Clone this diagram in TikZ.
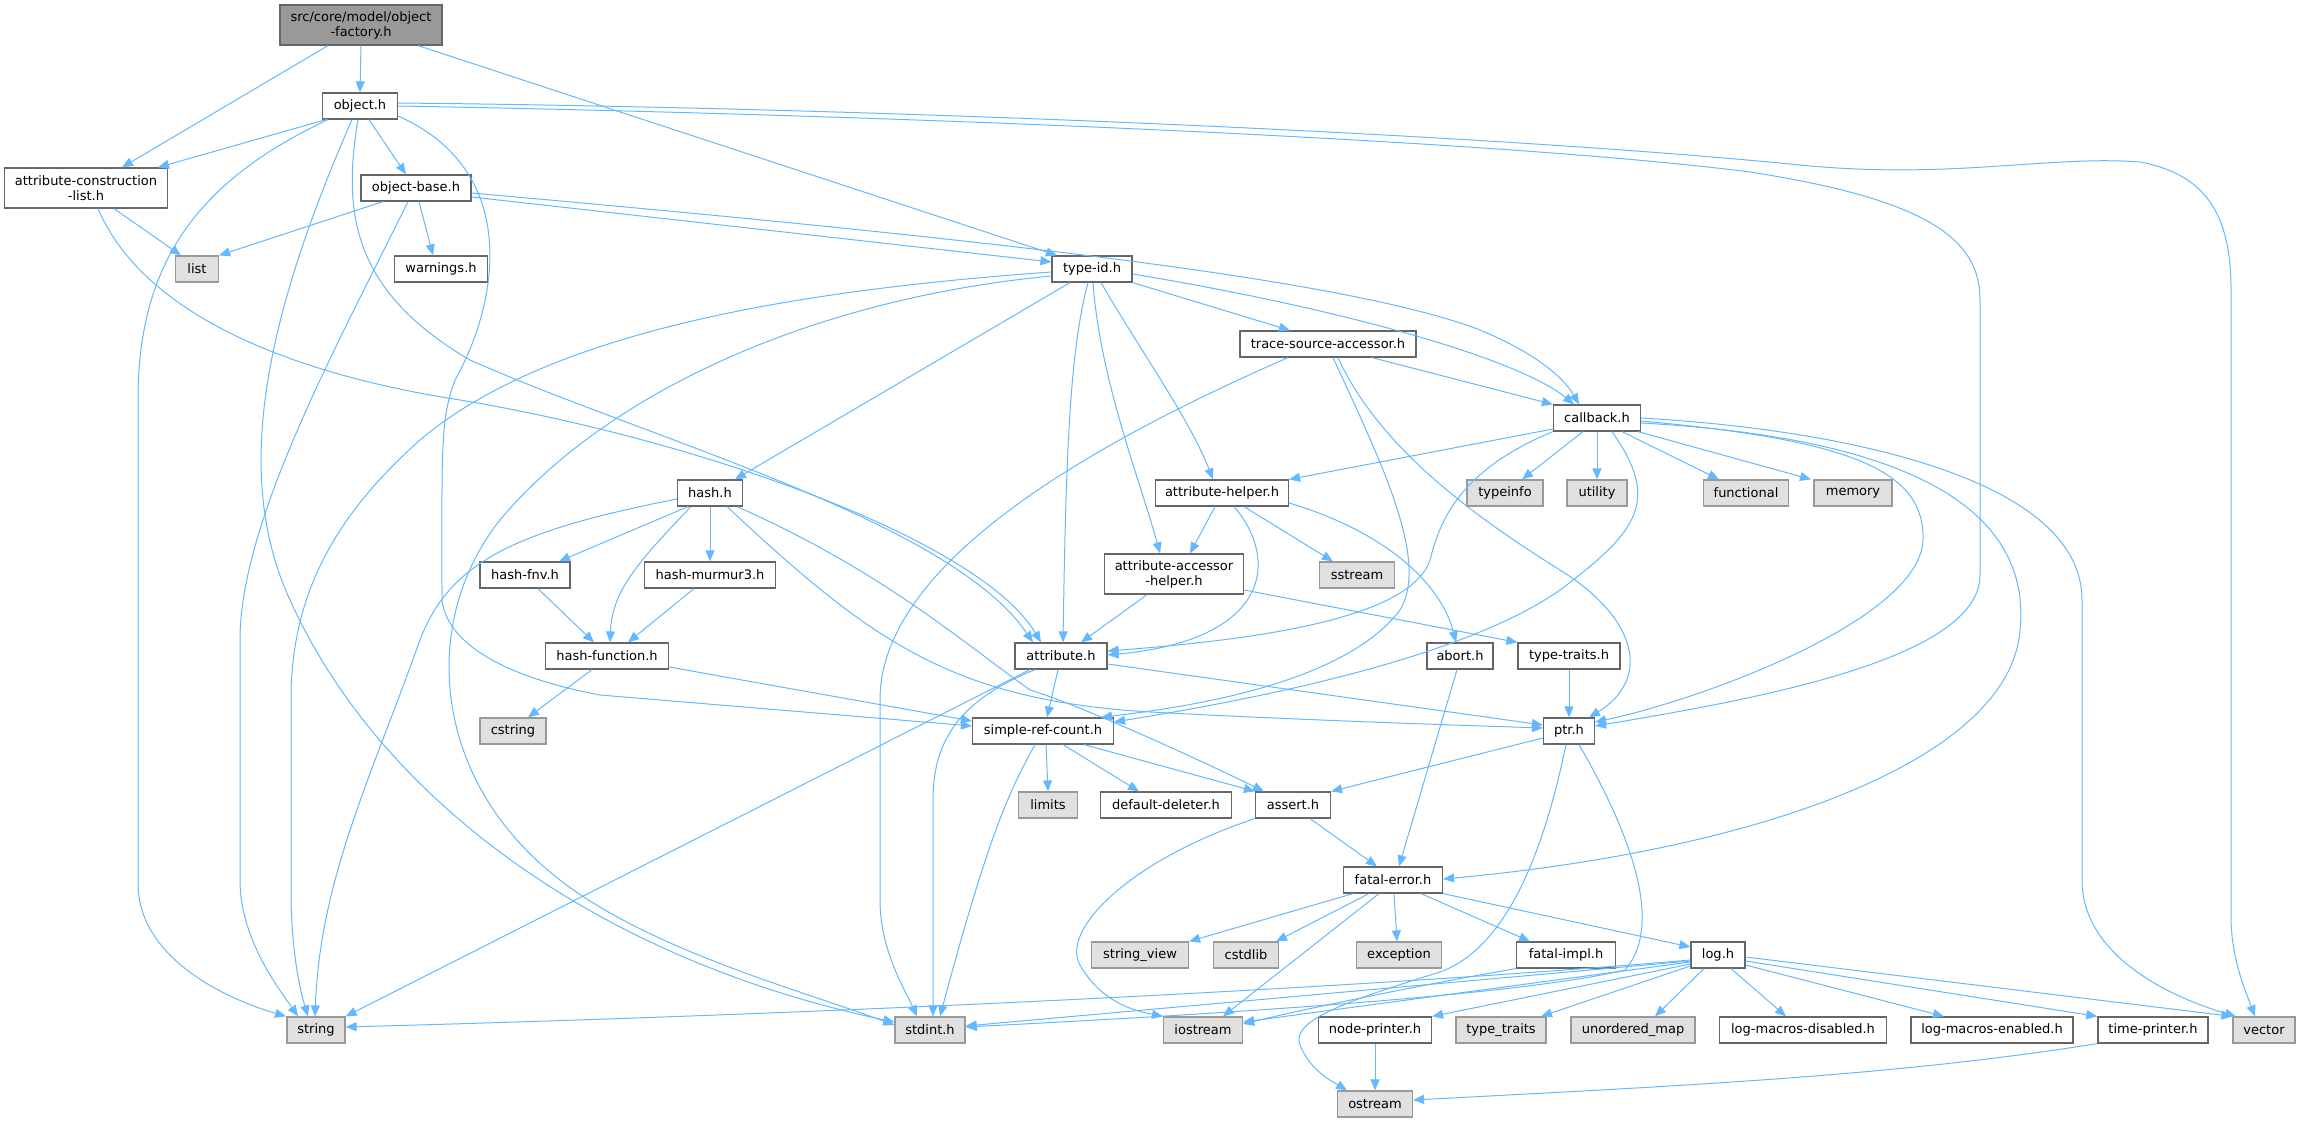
\documentclass[tikz,border=0pt]{standalone}
\usepackage{fontspec}
\setmainfont{DejaVu Sans}
\usepackage{tikz}
\usetikzlibrary{shapes,
                arrows.meta}
\definecolor{edgeblue}{HTML}{63B8FF}
\definecolor{headerline}{HTML}{666666}
\definecolor{sysline}{HTML}{999999}
\definecolor{sysfill}{HTML}{E0E0E0}
\definecolor{rootfill}{HTML}{999999}
\tikzset{header/.style=
   {rectangle,
    draw=headerline,
    fill=white,
    line width=1.2pt,
    text centered,
    inner sep=0pt,
    minimum height=26pt,
    font=\fontsize{13}{15}\selectfont}}
\tikzset{sysheader/.style =
   {header,
    draw=sysline,
    fill=sysfill}}
\tikzset{twolines/.style =
   {align=center,
    minimum height=40pt}}
\tikzset{rootheader/.style =
   {header,
    twolines,
    fill=rootfill}}
\tikzset{arrow/.style = {draw=edgeblue, line width=1pt, -{Triangle[length=11pt,width=9pt]}}}

\begin{document}
\begin{tikzpicture}[x=1pt, y=-1pt, auto]

    \useasboundingbox (0,0) rectangle (2300,1123);

    \node [rootheader, minimum width=162pt] (factory) at (361,25)
    {src/core/model/object\\-factory.h};
    \node [header, minimum width=75pt]  (object)    at (360,106)  {object.h};
    \node [header, twolines, minimum width=163pt] (constrlist) at (86,188)
    {attribute-construction\\-list.h};
    \node [header, minimum width=110pt] (objbase)   at (416,188)  {object-base.h};
    \node [sysheader, minimum width=43pt] (list)    at (197,269)  {list};
    \node [header, minimum width=93pt]  (warnings)  at (441,269)  {warnings.h};
    \node [header, minimum width=80pt]  (typeid)    at (1092,269) {type-id.h};
    \node [header, minimum width=176pt] (tracesrc)  at (1328,344) {trace-source-accessor.h};
    \node [header, minimum width=87pt]  (callback)  at (1597,418) {callback.h};
    \node [header, minimum width=65pt]  (hash)      at (710,493)  {hash.h};
    \node [header, minimum width=133pt] (attrhelper) at (1222,493) {attribute-helper.h};
    \node [sysheader, minimum width=76pt] (typeinfo) at (1505,493) {typeinfo};
    \node [sysheader, minimum width=60pt] (utility)  at (1597,493) {utility};
    \node [sysheader, minimum width=85pt] (functional) at (1746,493) {functional};
    \node [sysheader, minimum width=78pt] (memory)   at (1853,493) {memory};
    \node [header, minimum width=90pt]  (hashfnv)   at (525,575)  {hash-fnv.h};
    \node [header, minimum width=131pt] (murmur)    at (710,575)  {hash-murmur3.h};
    \node [header, twolines, minimum width=139pt] (accessor) at (1174,574)
    {attribute-accessor\\-helper.h};
    \node [sysheader, minimum width=75pt] (sstream)  at (1357,575) {sstream};
    \node [header, minimum width=123pt] (hashfunc)  at (607,656)  {hash-function.h};
    \node [header, minimum width=92pt]  (attribute) at (1061,656) {attribute.h};
    \node [header, minimum width=66pt]  (abort)     at (1460,656) {abort.h};
    \node [header, minimum width=102pt] (typetraits) at (1569,656) {type-traits.h};
    \node [sysheader, minimum width=66pt] (cstring)  at (513,731)  {cstring};
    \node [header, minimum width=141pt] (refcount)  at (1043,731) {simple-ref-count.h};
    \node [header, minimum width=51pt]  (ptr)       at (1569,731) {ptr.h};
    \node [sysheader, minimum width=59pt] (limits)   at (1048,805) {limits};
    \node [header, minimum width=131pt] (deleter)   at (1166,805) {default-deleter.h};
    \node [header, minimum width=75pt]  (assert)    at (1293,805) {assert.h};
    \node [header, minimum width=99pt]  (fatal)     at (1393,880) {fatal-error.h};
    \node [sysheader, minimum width=97pt] (stringview) at (1140,955) {string\_view};
    \node [sysheader, minimum width=65pt] (cstdlib)  at (1246,955) {cstdlib};
    \node [sysheader, minimum width=85pt] (exception) at (1399,955) {exception};
    \node [header, minimum width=99pt]  (fatalimpl) at (1566,955) {fatal-impl.h};
    \node [header, minimum width=54pt]  (log)       at (1718,955) {log.h};
    \node [sysheader, minimum width=58pt] (string)   at (316,1030) {string};
    \node [sysheader, minimum width=70pt] (stdint)   at (930,1030) {stdint.h};
    \node [sysheader, minimum width=79pt] (iostream) at (1203,1030) {iostream};
    \node [header, minimum width=113pt] (nodeprinter) at (1375,1030) {node-printer.h};
    \node [sysheader, minimum width=90pt] (stdtraits) at (1501,1030) {type\_traits};
    \node [sysheader, minimum width=124pt] (unordmap) at (1633,1030) {unordered\_map};
    \node [header, minimum width=167pt] (macrosoff) at (1803,1030) {log-macros-disabled.h};
    \node [header, minimum width=162pt] (macroson)  at (1992,1030) {log-macros-enabled.h};
    \node [header, minimum width=110pt] (timeprinter) at (2153,1030) {time-printer.h};
    \node [sysheader, minimum width=62pt] (vector)   at (2264,1030) {vector};
    \node [sysheader, minimum width=75pt] (ostream)  at (1375,1104) {ostream};

    \draw [arrow] ([xshift=-33pt]factory.south) -- ([xshift=36pt]constrlist.north);
    \draw [arrow] (factory.south) -- (object.north);
    \draw [arrow] ([xshift=57pt]factory.south) -- ([xshift=-35pt]typeid.north);

    \draw [arrow] ([xshift=-34pt]object.south) -- ([xshift=72pt]constrlist.north);
    \draw [arrow] ([xshift=9pt]object.south) -- ([xshift=-10pt]objbase.north);
    \draw [arrow] ([xshift=-32pt]object.south) .. controls (200,180) and (138,260) .. (138,400)
        -- (138,883) .. controls (138,960) and (230,1000) .. ([xshift=-30pt]string.north);
    \draw [arrow] ([xshift=-8pt]object.south) .. controls (260,330) and (235,480) .. (290,600)
        .. controls (380,800) and (600,960) .. ([yshift=8pt]stdint.west);
    \draw [arrow] ([xshift=-2pt]object.south) .. controls (343,210) and (350,290) .. (470,360)
        .. controls (650,440) and (950,520) .. ([xshift=-28pt]attribute.north);
    \draw [arrow] ([yshift=-10pt]object.east) .. controls (520,170) and (500,300) .. (455,380)
        .. controls (440,420) and (442,450) .. (442,600)
        .. controls (448,650) and (520,680) .. (600,695) -- ([yshift=5pt]refcount.west);
    \draw [arrow] (object.east) .. controls (900,115) and (1500,140) .. (1750,172)
        .. controls (1930,200) and (1980,240) .. (1980,300) -- (1980,575)
        .. controls (1980,660) and (1750,700) .. ([yshift=5pt]ptr.east);
    \draw [arrow] ([yshift=3pt]object.east) .. controls (900,108) and (1500,135) .. (1800,165)
        .. controls (1950,180) and (2050,155) .. (2140,162)
        .. controls (2210,175) and (2231,220) .. (2231,290) -- (2231,920)
        .. controls (2232,960) and (2245,990) .. ([xshift=-9pt]vector.north);

    \draw [arrow] ([xshift=28pt]constrlist.south) -- ([xshift=-16pt]list.north);
    \draw [arrow] ([xshift=12pt]constrlist.south) .. controls (150,330) and (330,380) .. (460,400)
        .. controls (700,440) and (980,540) .. ([xshift=-20pt]attribute.north);

    \draw [arrow] ([xshift=-33pt]objbase.south) -- (list.north east);
    \draw [arrow] ([xshift=3pt]objbase.south) -- ([xshift=-8pt]warnings.north);
    \draw [arrow] ([xshift=-8pt]objbase.south) .. controls (340,340) and (240,520) .. (240,640)
        -- (240,880) .. controls (240,940) and (280,990) .. ([xshift=-18pt]string.north);
    \draw [arrow] ([yshift=-9pt]objbase.east) -- ([yshift=7pt]typeid.west);
    \draw [arrow] ([yshift=-5pt]objbase.east) .. controls (1000,240) and (1350,280) .. (1480,330)
        .. controls (1540,355) and (1565,380) .. ([xshift=-18pt]callback.north);

    \draw [arrow] (typeid.south east) -- ([xshift=-38pt]tracesrc.north);
    \draw [arrow] ([yshift=-5pt]typeid.east) .. controls (1350,310) and (1520,360)
        .. ([xshift=-23pt]callback.north);
    \draw [arrow] ([xshift=-22pt]typeid.south) -- ([xshift=25pt]hash.north);
    \draw [arrow] ([xshift=-4pt]typeid.south) .. controls (1070,350) and (1066,450)
        .. ([xshift=2pt]attribute.north);
    \draw [arrow] ([xshift=1pt]typeid.south) .. controls (1100,380) and (1140,480)
        .. ([xshift=-14pt]accessor.north);
    \draw [arrow] ([xshift=9pt]typeid.south) .. controls (1140,350) and (1190,420)
        .. ([xshift=-9pt]attrhelper.north);
    \draw [arrow] ([yshift=-3pt]typeid.west) .. controls (800,290) and (550,330) .. (420,440)
        .. controls (330,520) and (291,600) .. (291,700) -- (291,890)
        .. controls (291,950) and (300,990) .. ([xshift=-8pt]string.north);
    \draw [arrow] ([yshift=-7pt]typeid.west) .. controls (800,300) and (600,400) .. (500,520)
        .. controls (420,620) and (430,780) .. (560,880)
        .. controls (650,950) and (800,990) .. ([yshift=5pt]stdint.west);

    \draw [arrow] ([xshift=44pt]tracesrc.south) -- (callback.north west);
    \draw [arrow] ([xshift=-40pt]tracesrc.south) .. controls (1100,440) and (880,560) .. (880,700)
        -- (880,900) .. controls (880,950) and (905,990) .. ([xshift=-13pt]stdint.north);
    \draw [arrow] ([xshift=5pt]tracesrc.south) .. controls (1380,460) and (1430,560) .. (1400,610)
        .. controls (1340,690) and (1160,710) .. ([xshift=58pt]refcount.north);
    \draw [arrow] ([xshift=10pt]tracesrc.south) .. controls (1380,450) and (1480,520) .. (1560,570)
        .. controls (1640,620) and (1650,680) .. ([xshift=20pt]ptr.north);

    \draw [arrow] ([yshift=-11pt]callback.west) -- (attrhelper.north east);
    \draw [arrow] (callback.south west) .. controls (1460,470) and (1440,520) .. (1430,560)
        .. controls (1410,620) and (1250,640) .. ([yshift=5pt]attribute.east);
    \draw [arrow] ([xshift=15pt]callback.south) .. controls (1660,500) and (1640,530) .. (1560,590)
        .. controls (1460,660) and (1250,700) .. ([yshift=9pt]refcount.east);
    \draw [arrow] ([xshift=-14pt]callback.south) -- ([xshift=17pt]typeinfo.north);
    \draw [arrow] (callback.south) -- (utility.north);
    \draw [arrow] ([xshift=25pt]callback.south) -- ([xshift=-27pt]functional.north);
    \draw [arrow] ([xshift=41pt]callback.south) -- ([xshift=-42pt]memory.north);
    \draw [arrow] ([yshift=-3pt]callback.east) .. controls (1850,440) and (1925,470) .. (1923,540)
        .. controls (1920,620) and (1700,700) .. ([yshift=9pt]ptr.east);
    \draw [arrow] ([yshift=-5pt]callback.east) .. controls (1950,440) and (2030,530) .. (2020,630)
        .. controls (2010,760) and (1760,850) .. ([yshift=1pt]fatal.east);
    \draw [arrow] (callback.east) .. controls (1850,430) and (2082,480) .. (2082,600)
        -- (2082,880) .. controls (2082,960) and (2180,1000) .. ([xshift=-28pt]vector.north);

    \draw [arrow] ([xshift=-22pt]hash.south) -- ([xshift=34pt]hashfnv.north);
    \draw [arrow] (hash.south) -- (murmur.north);
    \draw [arrow] ([xshift=-19pt]hash.south) .. controls (640,560) and (612,590)
        .. ([xshift=3pt]hashfunc.north);
    \draw [arrow] ([yshift=-6pt]hash.west) .. controls (520,530) and (450,560) .. (420,640)
        .. controls (370,780) and (320,880) .. ([xshift=-1pt]string.north);
    \draw [arrow] ([xshift=27pt]hash.south) .. controls (880,570) and (960,640) .. (1030,690)
        .. controls (1080,705) and (1200,760) .. ([xshift=-29pt]assert.north);
    \draw [arrow] ([xshift=17pt]hash.south) .. controls (870,640) and (950,700) .. (1150,712)
        .. controls (1300,720) and (1450,725) .. ([yshift=3pt]ptr.west);

    \draw [arrow] ([xshift=13pt]hashfnv.south) -- ([xshift=-13pt]hashfunc.north);
    \draw [arrow] ([xshift=-16pt]murmur.south) -- ([xshift=21pt]hashfunc.north);
    \draw [arrow] ([xshift=-15pt]hashfunc.south) -- ([xshift=15pt]cstring.north);
    \draw [arrow] ([yshift=-11pt]hashfunc.east) -- ([yshift=10pt]refcount.west);

    \draw [arrow] ([xshift=-7pt]attrhelper.south) -- ([xshift=16pt]accessor.north);
    \draw [arrow] ([xshift=12pt]attrhelper.south) .. controls (1280,560) and (1270,640)
        .. ([yshift=1pt]attribute.east);
    \draw [arrow] ([xshift=22pt]attrhelper.south) -- ([xshift=-24pt]sstream.north);
    \draw [arrow] ([yshift=-10pt]attrhelper.east) .. controls (1380,530) and (1440,580)
        .. ([xshift=-4pt]abort.north);

    \draw [arrow] ([xshift=-27pt]accessor.south) -- ([xshift=20pt]attribute.north);
    \draw [arrow] ([yshift=-16pt]accessor.east) -- (typetraits.north west);

    \draw [arrow] ([xshift=-3pt]attribute.south) -- ([xshift=4pt]refcount.north);
    \draw [arrow] ([yshift=-8pt]attribute.east) -- ([yshift=6pt]ptr.west);
    \draw [arrow] ([xshift=-26pt]attribute.south) .. controls (960,700) and (933,740) .. (933,800)
        -- ([xshift=3pt]stdint.north);
    \draw [arrow] ([xshift=-31pt]attribute.south) -- (string.north east);

    \draw [arrow] ([xshift=-3pt]abort.south) -- ([xshift=6pt]fatal.north);
    \draw [arrow] (typetraits.south) -- (ptr.north);

    \draw [arrow] ([xshift=3pt]refcount.south) -- (limits.north);
    \draw [arrow] ([xshift=20pt]refcount.south) -- ([xshift=-27pt]deleter.north);
    \draw [arrow] ([xshift=41pt]refcount.south) -- (assert.north west);
    \draw [arrow] ([xshift=-8pt]refcount.south) .. controls (1010,790) and (990,830)
        .. ([xshift=10pt]stdint.north);

    \draw [arrow] ([yshift=-7pt]ptr.west) -- (assert.north east);
    \draw [arrow] ([xshift=10pt]ptr.south) .. controls (1640,850) and (1660,930) .. (1625,970)
        .. controls (1500,1000) and (1100,1020) .. ([yshift=3pt]stdint.east);
    \draw [arrow] ([xshift=-3pt]ptr.south) .. controls (1540,870) and (1500,950) .. (1440,972)
        .. controls (1350,1000) and (1290,1020) .. (1300,1045)
        .. controls (1310,1070) and (1330,1080) .. ([xshift=-28pt]ostream.north);

    \draw [arrow] ([xshift=17pt]assert.south) -- ([xshift=-16pt]fatal.north);
    \draw [arrow] (assert.south west) .. controls (1130,860) and (1060,930) .. (1080,965)
        .. controls (1100,1000) and (1130,1010) .. (iostream.north west);

    \draw [arrow] ([xshift=-40pt]fatal.south) -- (stringview.north east);
    \draw [arrow] ([xshift=-24pt]fatal.south) -- ([xshift=30pt]cstdlib.north);
    \draw [arrow] ([xshift=-14pt]fatal.south) -- ([xshift=20pt]iostream.north);
    \draw [arrow] ([xshift=1pt]fatal.south) -- ([xshift=-2pt]exception.north);
    \draw [arrow] ([xshift=28pt]fatal.south) -- ([xshift=-36pt]fatalimpl.north);
    \draw [arrow] (fatal.south east) -- ([yshift=8pt]log.west);

    \draw [arrow] (fatalimpl.south west) .. controls (1420,985) and (1300,1010)
        .. ([yshift=6pt]iostream.east);

    \draw [arrow] ([yshift=-5pt]log.west) .. controls (1400,985) and (900,1012)
        .. ([yshift=3pt]string.east);
    \draw [arrow] ([yshift=-6pt]log.west) -- ([yshift=4pt]stdint.east);
    \draw [arrow] ([yshift=-7pt]log.west) -- ([yshift=8pt]iostream.east);
    \draw [arrow] ([yshift=-9pt]log.west) -- (nodeprinter.north east);
    \draw [arrow] ([yshift=-11pt]log.west) -- ([xshift=40pt]stdtraits.north);
    \draw [arrow] ([xshift=-14pt]log.south) -- ([xshift=22pt]unordmap.north);
    \draw [arrow] ([xshift=13pt]log.south) -- ([xshift=-17pt]macrosoff.north);
    \draw [arrow] ([yshift=-10pt]log.east) -- ([xshift=-48pt]macroson.north);
    \draw [arrow] ([yshift=-6pt]log.east) -- (timeprinter.north west);
    \draw [arrow] ([yshift=-2pt]log.east) -- (vector.north west);

    \draw [arrow] (nodeprinter.south) -- (ostream.north);
    \draw [arrow] (timeprinter.south west) .. controls (1900,1075) and (1700,1085)
        .. ([yshift=4pt]ostream.east);

\end{tikzpicture}
\end{document}
